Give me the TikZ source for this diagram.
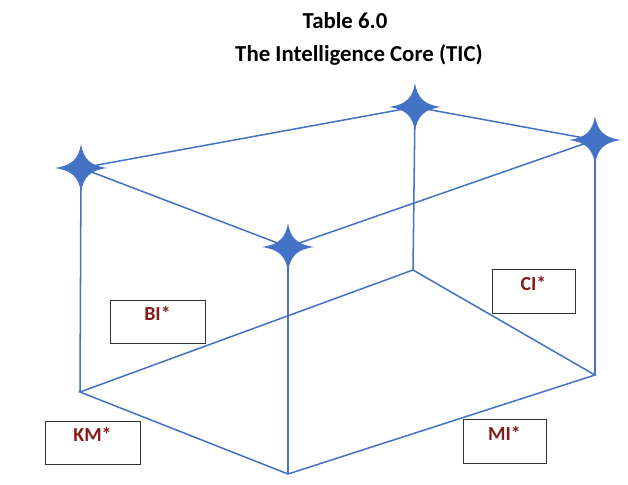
\documentclass[tikz,border=0pt]{standalone}
\usepackage{fontspec}
\setmainfont{Carlito}

\definecolor{coreblue}{HTML}{4472C4}
\definecolor{tagred}{HTML}{861B1B}

\begin{document}
\begin{tikzpicture}[x=0.03cm, y=-0.03cm,
  edge/.style={coreblue, line width=1.3pt},
  spark/.style={fill=coreblue},
  tagbox/.style={draw=black!80, line width=0.6pt, minimum height=1.31cm, text depth=0.5cm, font=\fontsize{17}{20}\selectfont\bfseries, text=tagred}]

  \useasboundingbox (0,0) rectangle (628,484);

  % Title
  \node[font=\fontsize{19.5}{23}\selectfont\bfseries] (title) at (345,21) {Table 6.0};
  \node[font=\fontsize{19.5}{23}\selectfont\bfseries] (subtitle) at (359,55) {The Intelligence Core (TIC)};

  % Bottom corners
  \coordinate (bleft) at (80,392);
  \coordinate (bback) at (413,270);
  \coordinate (bright) at (595,375);
  \coordinate (bfront) at (288,474);

  % Top corners
  \coordinate (tleft) at (81,168);
  \coordinate (tback) at (415,107);
  \coordinate (tright) at (595,140);
  \coordinate (tfront) at (288,247);

  % Top face
  \draw[edge] (tleft) -- (tback) -- (tright) -- (tfront) -- cycle;

  % Bottom face
  \draw[edge] (bleft) -- (bback) -- (bright) -- (bfront) -- cycle;

  % Uprights
  \draw[edge] (tleft) -- (bleft);
  \draw[edge] (tback) -- (bback);
  \draw[edge] (tright) -- (bright);
  \draw[edge] (tfront) -- (bfront);

  % Stars on the top corners
  \foreach \c in {tleft,tback,tright,tfront}
    \fill[spark, shift={(\c)}] (0,-24)
      .. controls (2.5,-9) and (9,-2.5) .. (26,0)
      .. controls (9,2.5) and (2.5,9) .. (0,24)
      .. controls (-2.5,9) and (-9,2.5) .. (-26,0)
      .. controls (-9,-2.5) and (-2.5,-9) .. cycle;

  % Labels
  \node[tagbox, minimum width=2.85cm] (km) at (92.5,443) {KM*};
  \node[tagbox, minimum width=2.85cm] (bi) at (157.5,322) {BI*};
  \node[tagbox, minimum width=2.49cm] (ci) at (533.5,291.5) {CI*};
  \node[tagbox, minimum width=2.49cm] (mi) at (504.5,441.5) {MI*};

\end{tikzpicture}
\end{document}
